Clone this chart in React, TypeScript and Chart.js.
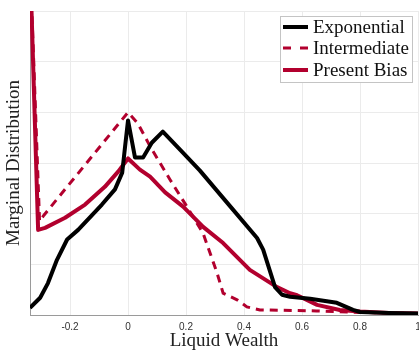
import React, { useEffect, useRef } from 'react';
import { Chart, registerables } from 'chart.js';
Chart.register(...registerables);

const seriesNames = ['Exponential', 'Intermediate', 'Present Bias'];

const expX = [-0.338, -0.303, -0.276, -0.245, -0.21, -0.172, -0.09, -0.045, -0.02, -0.01, 0, 0.024, 0.052, 0.082, 0.12, 0.19, 0.248, 0.362, 0.445, 0.466, 0.507, 0.531, 0.559, 0.628, 0.72, 0.776, 0.8, 0.9, 1.0];
const expY = [0.14, 0.34, 0.63, 1.09, 1.49, 1.68, 2.18, 2.48, 2.81, 3.33, 3.84, 3.11, 3.11, 3.4, 3.62, 3.2, 2.85, 2.08, 1.52, 1.29, 0.55, 0.4, 0.36, 0.32, 0.24, 0.1, 0.06, 0.04, 0.03];

const intX = [-0.338, -0.305, -0.29, 0, 0.034, 0.076, 0.145, 0.203, 0.259, 0.307, 0.328, 0.376, 0.41, 0.455, 0.65, 0.8, 1.0];
const intY = [7.0, 1.85, 1.97, 4.0, 3.78, 3.33, 2.67, 2.14, 1.61, 0.83, 0.43, 0.3, 0.16, 0.1, 0.08, 0.05, 0.03];

const pbX = [-0.338, -0.31, -0.286, -0.217, -0.148, -0.08, -0.034, 0, 0.041, 0.076, 0.128, 0.19, 0.259, 0.328, 0.42, 0.514, 0.559, 0.583, 0.652, 0.73, 0.8, 0.9, 1.0];
const pbY = [7.0, 1.68, 1.72, 1.92, 2.18, 2.53, 2.83, 3.09, 2.87, 2.73, 2.42, 2.14, 1.74, 1.42, 0.89, 0.55, 0.43, 0.39, 0.2, 0.1, 0.07, 0.04, 0.03];

const xTicks = [-0.2, 0, 0.2, 0.4, 0.6, 0.8, 1];
const xTickLabels = ['-0.2', '0', '0.2', '0.4', '0.6', '0.8', '1'];
const yTicks = [0, 1, 2, 3, 4, 5, 6];

const RED = '#b2002e';
const BLACK = '#000000';

const zip = (xs: number[], ys: number[]) => xs.map((x, i) => ({ x, y: ys[i] }));

const legendPlugin = {
  id: 'boxLegend',
  afterDatasetsDraw(chart: any) {
    const ctx = chart.ctx as CanvasRenderingContext2D;
    ctx.save();
    const bx = 280.5, by = 16.5, bw = 132, bh = 66;
    ctx.fillStyle = '#ffffff';
    ctx.fillRect(bx, by, bw, bh);
    ctx.strokeStyle = '#c4c4c4';
    ctx.lineWidth = 1;
    ctx.strokeRect(bx, by, bw, bh);
    const rows = [27, 48, 70];
    chart.data.datasets.forEach((ds: any, i: number) => {
      const y = rows[i];
      ctx.beginPath();
      ctx.strokeStyle = ds.borderColor;
      ctx.lineWidth = ds.borderWidth;
      ctx.setLineDash(ds.borderDash && ds.borderDash.length ? [8, 9] : []);
      ctx.moveTo(283, y);
      ctx.lineTo(308, y);
      ctx.stroke();
      ctx.setLineDash([]);
      ctx.fillStyle = '#111';
      ctx.font = '19px "Liberation Serif"';
      ctx.textBaseline = 'middle';
      ctx.textAlign = 'left';
      ctx.fillText(ds.label, 313, y + 1);
    });
    ctx.restore();
  },
};

export default function App() {
  const ref = useRef<HTMLCanvasElement>(null);
  useEffect(() => {
    const prev = document.body.style.margin;
    document.body.style.margin = '0';
    const chart = new Chart(ref.current as HTMLCanvasElement, {
      type: 'line',
      data: {
        datasets: [
          {
            label: seriesNames[0],
            data: zip(expX, expY),
            borderColor: BLACK,
            borderWidth: 4,
            pointRadius: 0,
            tension: 0,
            borderJoinStyle: 'round',
            fill: false,
          },
          {
            label: seriesNames[1],
            data: zip(intX, intY),
            borderColor: RED,
            borderWidth: 3,
            borderDash: [8, 6],
            pointRadius: 0,
            tension: 0,
            fill: false,
          },
          {
            label: seriesNames[2],
            data: zip(pbX, pbY),
            borderColor: RED,
            borderWidth: 4,
            pointRadius: 0,
            tension: 0,
            borderJoinStyle: 'round',
            fill: false,
          },
        ],
      } as any,
      options: {
        responsive: false,
        animation: false,
        parsing: false as any,
        layout: { padding: { top: 11, right: 1, left: 0, bottom: 0 }, autoPadding: false } as any,
        plugins: { legend: { display: false }, tooltip: { enabled: false } },
        scales: {
          x: {
            type: 'linear',
            min: -0.338,
            max: 1,
            afterBuildTicks: (s: any) => {
              s.ticks = xTicks.map((v) => ({ value: v }));
            },
            afterFit: (s: any) => {
              s.height = 36;
              s.paddingLeft = 0;
              s.paddingRight = 0;
              s.paddingTop = 0;
              s.paddingBottom = 0;
            },
            ticks: {
              autoSkip: false,
              maxRotation: 0,
              padding: 6,
              color: '#333',
              font: { family: '"Liberation Sans"', size: 10 },
              callback: (v: any) => {
                const i = xTicks.findIndex((t) => Math.abs(t - Number(v)) < 1e-9);
                return i >= 0 ? xTickLabels[i] : '';
              },
            },
            grid: { color: '#ebebeb', drawTicks: false },
            border: { color: '#9a9a9a' },
            title: {
              display: true,
              text: 'Liquid Wealth',
              color: '#222',
              font: { family: '"Liberation Serif"', size: 19, lineHeight: 1 },
              padding: { top: 0, bottom: 0 },
            },
          },
          y: {
            type: 'linear',
            min: 0,
            max: 6,
            afterBuildTicks: (s: any) => {
              s.ticks = yTicks.map((v) => ({ value: v }));
            },
            afterFit: (s: any) => {
              s.width = 30;
              s.paddingLeft = 0;
              s.paddingRight = 0;
              s.paddingTop = 0;
              s.paddingBottom = 0;
            },
            ticks: { display: false },
            grid: { color: '#ebebeb', drawTicks: false },
            border: { color: '#9a9a9a' },
            title: {
              display: true,
              text: 'Marginal Distribution',
              color: '#222',
              font: { family: '"Liberation Serif"', size: 19, lineHeight: 1 },
              padding: { top: 5, bottom: 0 },
            },
          },
        },
      } as any,
      plugins: [legendPlugin],
    });
    return () => {
      chart.destroy();
      document.body.style.margin = prev;
    };
  }, []);
  return (
    <div style={{ position: 'absolute', left: 0, top: 0, width: 419, height: 351 }}>
      <canvas ref={ref} width={419} height={351} style={{ display: 'block', width: 419, height: 351 }} />
    </div>
  );
}
